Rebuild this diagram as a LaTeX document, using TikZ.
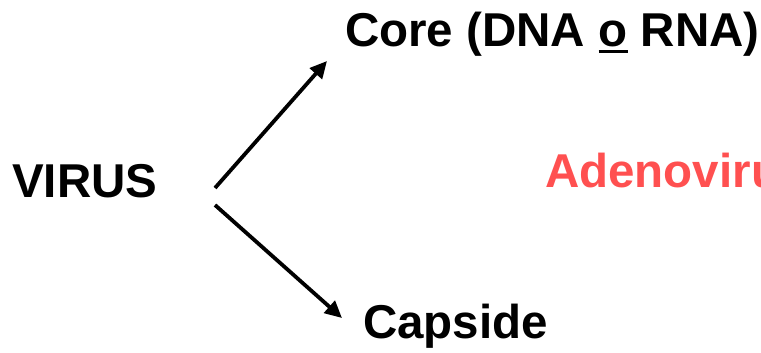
\documentclass[tikz,border=0pt]{standalone}
\usepackage{fontspec}
\setmainfont{Liberation Sans}
\usetikzlibrary{arrows.meta}
\definecolor{adeno}{RGB}{255,80,80}
\newcommand\myul[1]{\setbox0\hbox{#1}\rlap{\rule[-6pt]{\wd0}{3pt}}\box0\relax}
\begin{document}
\begin{tikzpicture}[x=1pt,y=-1pt,
  lbl/.style={inner sep=0pt, anchor=base west, font=\fontsize{47.5}{50}\selectfont\bfseries},
  arr/.style={line width=3.8pt, -{Triangle[length=17pt,width=16pt]}}]
\clip (0,0) rectangle (761,353);
\node[lbl] (virus) at (12,197) {VIRUS};
\node[lbl] (core) at (345,47) {Core (DNA \myul{o} RNA)};
\node[lbl] (caps) at (363,338) {Capside};
\node[lbl, text=adeno] (adeno) at (545,187) {Adenovirus};
\coordinate (s1) at (215,188);
\coordinate (e1) at (327,61);
\coordinate (s2) at (215,205);
\coordinate (e2) at (342,318);
\draw[arr] (s1) -- (e1);
\draw[arr] (s2) -- (e2);
\end{tikzpicture}
\end{document}
